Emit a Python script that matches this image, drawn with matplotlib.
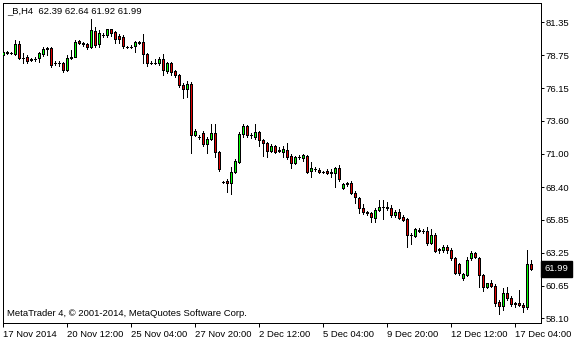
import matplotlib
matplotlib.use("Agg")
import matplotlib.pyplot as plt
import matplotlib.transforms as mtransforms
import numpy as np

# ---------------- data ----------------
header_text = "_B,H4  62.39 62.64 61.92 61.99"
footer_text = "MetaTrader 4, \u00a9 2001-2014, MetaQuotes Software Corp."

opens = [78.76, 79.02, 78.89, 78.81, 79.65, 78.52, 78.63, 78.42, 78.45, 78.50,
         78.81, 79.20, 79.28, 78.11, 78.11, 78.16, 77.58, 78.55, 78.63, 79.83,
         79.68, 79.60, 79.41, 80.62, 79.60, 80.30, 80.30, 80.77, 80.57, 80.25,
         80.20, 79.41, 79.41, 79.47, 79.73, 79.75, 78.81, 78.13, 78.16, 78.11,
         78.47, 77.53, 78.16, 77.48, 77.16, 76.38, 76.07, 76.48, 72.48, 72.35,
         72.67, 71.78, 72.14, 72.61, 71.17, 68.82, 68.87, 68.69, 69.55, 70.36,
         72.53, 73.19, 72.46, 72.30, 72.69, 72.09, 71.88, 71.25, 71.62, 71.25,
         71.15, 71.30, 70.83, 70.26, 70.73, 70.70, 70.83, 69.63, 69.84, 69.74,
         69.58, 69.66, 69.55, 69.47, 69.92, 68.35, 68.61, 68.74, 67.96, 67.54,
         66.75, 66.41, 66.33, 65.99, 66.60, 66.81, 66.81, 66.75, 66.18, 66.44,
         66.07, 65.89, 64.63, 64.58, 65.03, 64.95, 64.98, 63.98, 64.63, 63.56,
         63.46, 63.72, 63.46, 62.80, 62.36, 61.23, 61.50, 62.80, 63.20, 62.83,
         61.50, 60.53, 60.89, 60.66, 59.40, 59.06, 60.06, 59.72, 59.27, 59.27,
         59.17, 58.95, 62.39]
highs = [79.36, 79.10, 78.97, 79.94, 79.89, 78.94, 78.76, 78.52, 78.58, 79.02,
         79.41, 79.41, 79.36, 78.26, 78.26, 78.24, 78.76, 79.15, 79.94, 79.94,
         79.81, 79.73, 81.59, 80.93, 80.72, 80.46, 80.83, 80.83, 80.67, 80.38,
         80.33, 79.49, 79.57, 79.89, 79.86, 80.38, 78.89, 78.26, 78.45, 78.58,
         78.81, 78.24, 78.24, 77.58, 77.27, 76.54, 76.69, 76.67, 72.93, 72.48,
         72.82, 72.35, 73.35, 73.35, 71.25, 68.90, 69.00, 70.00, 70.57, 72.69,
         73.35, 73.27, 72.67, 73.35, 72.77, 72.19, 71.96, 71.78, 71.72, 71.57,
         71.64, 71.83, 70.99, 70.86, 70.91, 70.99, 70.89, 70.39, 70.00, 69.87,
         69.68, 69.79, 69.79, 70.00, 70.13, 68.69, 68.82, 68.90, 68.11, 67.64,
         67.07, 66.54, 66.44, 66.73, 67.38, 67.38, 67.25, 66.99, 66.60, 66.65,
         66.20, 65.94, 64.82, 65.16, 65.16, 65.08, 65.24, 65.11, 64.77, 63.64,
         63.85, 63.85, 63.59, 62.93, 62.46, 61.68, 62.93, 63.38, 63.33, 62.93,
         61.57, 60.89, 61.10, 60.79, 59.53, 60.45, 60.58, 59.85, 59.40, 60.32,
         59.32, 63.46, 62.64]
lows = [78.63, 78.81, 78.81, 78.76, 78.42, 78.11, 78.16, 78.26, 78.32, 78.21,
        78.68, 78.76, 77.84, 77.95, 77.90, 77.45, 77.53, 78.42, 78.58, 79.62,
        79.49, 79.26, 79.28, 79.36, 79.36, 80.20, 80.20, 80.25, 79.68, 79.68,
        79.34, 79.34, 79.34, 79.02, 79.60, 78.11, 77.92, 78.03, 78.03, 77.98,
        77.19, 77.32, 77.16, 77.01, 76.22, 75.41, 75.44, 71.10, 72.40, 72.14,
        71.64, 71.04, 72.09, 70.78, 69.68, 68.74, 68.03, 67.83, 69.47, 70.31,
        72.35, 72.35, 72.22, 72.19, 71.64, 70.83, 70.78, 71.15, 71.10, 71.15,
        70.78, 70.62, 69.87, 70.18, 70.57, 70.44, 69.47, 69.21, 69.68, 69.53,
        69.47, 69.40, 69.21, 68.43, 68.90, 68.22, 68.48, 67.83, 67.12, 66.33,
        66.28, 66.20, 65.68, 65.63, 66.55, 65.89, 66.60, 66.07, 66.02, 65.89,
        65.73, 63.72, 63.90, 64.50, 64.84, 64.77, 63.88, 63.90, 63.33, 63.20,
        63.33, 63.20, 62.67, 61.57, 61.50, 61.10, 61.44, 62.67, 62.80, 60.58,
        60.24, 60.45, 60.53, 59.06, 58.41, 58.75, 59.53, 59.06, 59.01, 59.06,
        58.62, 58.80, 61.92]
closes = [79.02, 78.89, 78.88, 79.65, 78.55, 78.51, 78.32, 78.39, 78.44, 78.89,
          79.23, 79.34, 77.98, 78.10, 78.10, 77.58, 78.50, 78.63, 79.81, 79.73,
          79.65, 79.36, 80.70, 79.57, 80.49, 80.36, 80.77, 80.46, 79.99, 80.02,
          79.44, 79.39, 79.40, 79.75, 79.75, 78.81, 78.11, 78.16, 78.15, 78.47,
          77.58, 78.11, 77.43, 77.16, 76.38, 76.09, 76.48, 72.48, 72.77, 72.34,
          71.75, 72.14, 72.61, 71.15, 69.79, 68.81, 68.74, 69.58, 70.41, 72.56,
          73.19, 72.48, 72.45, 72.72, 72.09, 71.83, 71.25, 71.62, 71.15, 71.28,
          71.41, 70.78, 70.26, 70.73, 70.78, 70.89, 69.60, 69.87, 69.83, 69.58,
          69.57, 69.47, 69.54, 69.87, 69.00, 68.64, 68.69, 67.96, 67.59, 66.73,
          66.47, 66.39, 66.02, 66.60, 66.86, 66.80, 66.73, 66.20, 66.41, 65.97,
          65.81, 64.63, 64.66, 65.08, 64.98, 64.94, 63.98, 64.63, 63.40, 63.46,
          63.72, 63.46, 62.80, 61.63, 61.63, 61.57, 62.67, 63.20, 62.88, 61.50,
          60.53, 60.84, 60.66, 59.32, 59.06, 60.06, 59.66, 59.19, 59.26, 59.17,
          59.01, 62.40, 61.99]

x_tick_bars = [0, 16, 32, 48, 64, 80, 96, 112, 128]
x_tick_labels = ["17 Nov 2014", "20 Nov 12:00", "25 Nov 04:00", "27 Nov 20:00",
                 "2 Dec 12:00", "5 Dec 04:00", "9 Dec 20:00", "12 Dec 12:00",
                 "17 Dec 04:00"]
y_ticks = [81.35, 78.75, 76.15, 73.60, 71.00, 68.40, 65.85, 63.25, 60.65, 58.10]
last_price = 61.99

# ---------------- styling ----------------
W, H = 580, 340
FONT = "Liberation Sans"
FS = 6.8
BULL = "#00ff00"
BEAR = "#e00000"
PX = 72.0 / 100.0  # one pixel in points

plt.rcParams["font.family"] = [FONT, "DejaVu Sans"]

fig = plt.figure(figsize=(W / 100, H / 100), dpi=100, facecolor="white")
ax_left, ax_right, ax_top, ax_bottom = 2.5, 540.5, 2.5, 322.5
ax = fig.add_axes([ax_left / W, (H - ax_bottom) / H,
                   (ax_right - ax_left) / W, (ax_bottom - ax_top) / H])
ax.set_facecolor("white")

o = np.array(opens)
h = np.array(highs)
l = np.array(lows)
c = np.array(closes)
x = np.arange(len(o))

ax.vlines(x, l, h, colors="black", linewidth=PX, antialiased=False, zorder=2)
body_bottom = np.minimum(o, c)
body_height = np.maximum(np.abs(c - o), 0.005)
colors = [BULL if cc > oo else BEAR for oo, cc in zip(o, c)]
ax.bar(x, body_height, bottom=body_bottom, width=0.5, color=colors,
       edgecolor="black", linewidth=PX, antialiased=False, zorder=3)

bar_px = 4.0
xmin = -0.125
ax.set_xlim(xmin, xmin + (ax_right - ax_left) / bar_px)
ppu = 12.744
ax.set_ylim(58.10 - (ax_bottom - 318.3) / ppu, 81.35 + (22.0 - ax_top) / ppu)

for s in ax.spines.values():
    s.set_linewidth(PX)
    s.set_color("black")

ax.set_xticks(x_tick_bars)
ax.set_xticklabels(x_tick_labels, fontsize=FS, ha="left")
ax.tick_params(axis="x", direction="out", length=3, width=PX, pad=2.5,
               colors="black")

ax.yaxis.tick_right()
ax.set_yticks(y_ticks)
ax.set_yticklabels([f"{v:.2f}" for v in y_ticks], fontsize=FS)
ax.tick_params(axis="y", direction="out", length=2, width=PX, pad=1.5,
               colors="black")

trans = mtransforms.blended_transform_factory(ax.transAxes, ax.transData)
ax.text(1.0 + 4.0 / (ax_right - ax_left), last_price, f"{last_price:.2f}",
        transform=trans, ha="left", va="center", fontsize=FS, color="white",
        bbox=dict(boxstyle="square,pad=0.35", fc="black", ec="black"),
        clip_on=False)

fig.text(7 / W, 1 - 11 / H, header_text, fontsize=FS, ha="left", va="center",
         color="black")
fig.text(7 / W, 1 - 314 / H, footer_text, fontsize=FS, ha="left", va="center",
         color="black")

fig.savefig("out.png", dpi=100, facecolor="white")
